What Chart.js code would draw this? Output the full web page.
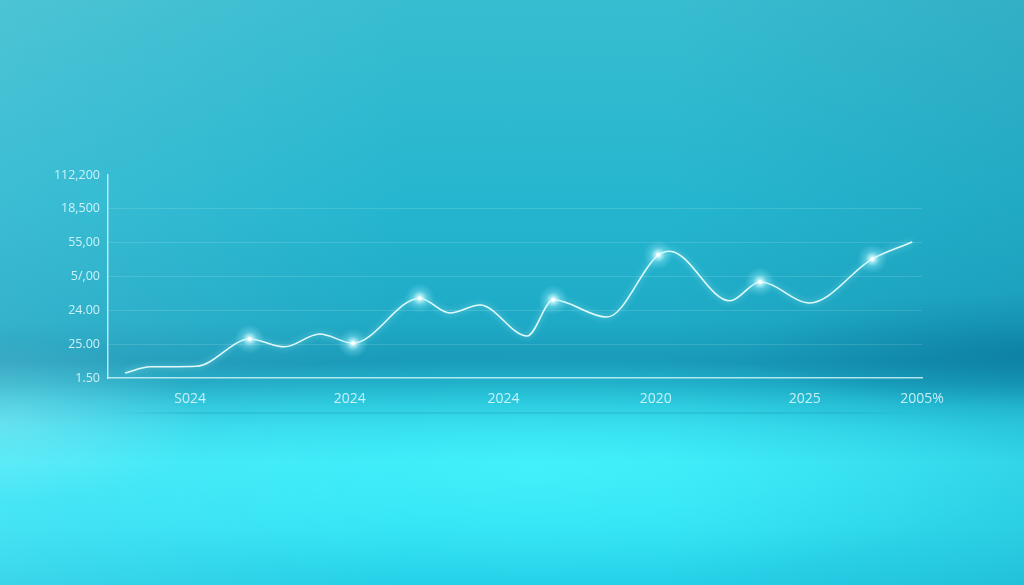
<!DOCTYPE html>
<html><head><meta charset="utf-8">
<script src="https://cdn.jsdelivr.net/npm/chart.js@4"></script>
<style>
html,body{margin:0;padding:0;width:1024px;height:585px;overflow:hidden}
body{background:
 radial-gradient(ellipse 48% 20% at 52% 80%, rgba(80,252,255,0.45), rgba(80,252,255,0) 100%),
 radial-gradient(ellipse 28% 10% at 100% 60%, rgba(0,105,145,0.4), rgba(0,105,145,0) 100%),
 radial-gradient(ellipse 20% 14% at 0% 72%, rgba(190,250,255,0.28), rgba(190,250,255,0) 100%),
 linear-gradient(90deg, rgba(255,255,255,0.1) 0%, rgba(255,255,255,0) 40%, rgba(0,60,100,0) 65%, rgba(0,60,100,0.1) 100%),
 linear-gradient(180deg, #38bdd0 0%, #25b6cf 35%, #1eaac6 55%, #1899b8 62%, #1ba8c3 65.5%, #25c0d8 69%, #2fd6ea 73%, #37e6f6 79%, #30e0f3 90%, #25d0e7 100%);}
#wrap{position:relative;width:1024px;height:585px}
</style></head><body><div id="wrap"><canvas id="c" width="1024" height="585"></canvas></div>
<script>
const yTickLabels = ['1.50','25.00','24.00','5/,00','55,00','18,500','112,200'];
const xTickLabels = ['S024','2024','2024','2020','2025','2005%'];
const xTickPositions = [10.1, 29.7, 48.6, 67.3, 85.6, 100];
const seriesX = [2.1, 5.2, 10.9, 17.4, 21.7, 26.0, 30.1, 38.3, 42.0, 45.7, 51.5, 54.7, 61.3, 67.6, 69.0, 76.4, 80.1, 86.2, 93.9, 98.8];
const seriesY = [0.15, 0.33, 0.35, 1.15, 0.92, 1.30, 1.03, 2.36, 1.92, 2.16, 1.24, 2.31, 1.80, 3.64, 3.75, 2.28, 2.84, 2.22, 3.52, 4.02];
const markerIndices = [3, 6, 7, 11, 13, 16, 18];

const pts = seriesX.map((x, i) => ({x, y: seriesY[i]}));
const markerPts = markerIndices.map(i => pts[i]);

const HALO_R = 15;
function haloFill(ctx) {
  const ch = ctx.chart;
  if (!ch.chartArea || !ctx.parsed) return 'rgba(210,255,255,0.4)';
  const px = ch.scales.x.getPixelForValue(ctx.parsed.x);
  const py = ch.scales.y.getPixelForValue(ctx.parsed.y);
  const g = ch.ctx.createRadialGradient(px, py, 0, px, py, HALO_R);
  g.addColorStop(0, 'rgba(245,255,255,1)');
  g.addColorStop(0.2, 'rgba(215,253,255,0.75)');
  g.addColorStop(0.5, 'rgba(160,242,255,0.3)');
  g.addColorStop(1, 'rgba(150,240,255,0)');
  return g;
}

const glow = {
  id: 'glow',
  beforeDatasetDraw(chart, args) {
    const ds = chart.data.datasets[args.index];
    const c = chart.ctx;
    c.save();
    c.shadowColor = ds.glowColor || 'rgba(200,255,255,0.9)';
    c.shadowBlur = ds.glowBlur || 0;
  },
  afterDatasetDraw(chart) { chart.ctx.restore(); },
  afterDraw(chart) {
    const c = chart.ctx;
    const ca = chart.chartArea;
    c.save();
    const g = c.createLinearGradient(ca.left, 0, ca.right, 0);
    g.addColorStop(0, 'rgba(20,140,170,0)');
    g.addColorStop(0.1, 'rgba(20,140,170,0.2)');
    g.addColorStop(0.9, 'rgba(20,140,170,0.2)');
    g.addColorStop(1, 'rgba(20,140,170,0)');
    c.strokeStyle = g;
    c.lineWidth = 2;
    c.beginPath();
    c.moveTo(ca.left + 5, ca.bottom + 35);
    c.lineTo(ca.right, ca.bottom + 35);
    c.stroke();
    c.restore();
  }
};

new Chart(document.getElementById('c'), {
  type: 'line',
  data: {
    datasets: [
      {
        data: markerPts, showLine: false, order: 0, clip: false,
        pointRadius: 2, pointBackgroundColor: 'rgba(255,255,255,0.9)', pointBorderWidth: 0,
        glowColor: 'rgba(220,255,255,1)', glowBlur: 10
      },
      {
        data: markerPts, showLine: false, order: 1, clip: false,
        pointRadius: HALO_R, pointBackgroundColor: haloFill, pointBorderWidth: 0
      },
      {
        data: pts, order: 2, clip: false,
        borderColor: 'rgba(235,255,255,0.95)', borderWidth: 1.5,
        cubicInterpolationMode: 'monotone', pointRadius: 0,
        glowColor: 'rgba(200,255,255,0.7)', glowBlur: 6
      }
    ]
  },
  options: {
    responsive: false, animation: false, devicePixelRatio: 1,
    layout: {padding: {top: 175, right: 102, left: 0, bottom: 0}},
    plugins: {legend: {display: false}, tooltip: {enabled: false}},
    scales: {
      x: {
        type: 'linear', min: 0, max: 100,
        afterBuildTicks(s) { s.ticks = xTickPositions.map(v => ({value: v})); },
        afterFit(s) { s.height = 585 - 378; },
        grid: {display: false, drawTicks: false},
        border: {display: true, color: 'rgba(215,248,255,0.8)', width: 1.5},
        ticks: {
          autoSkip: false, maxRotation: 0, padding: 13,
          color: 'rgba(225,250,255,0.85)',
          font: {family: 'Open Sans', size: 14},
          callback: (v, i) => xTickLabels[i]
        }
      },
      y: {
        min: 0, max: 6,
        afterFit(s) { s.width = 108; },
        grid: {drawTicks: false, color: c => (c.tick && (c.tick.value === 0 || c.tick.value === 6)) ? 'rgba(0,0,0,0)' : 'rgba(255,255,255,0.13)'},
        border: {display: true, color: 'rgba(215,248,255,0.8)', width: 1.5},
        ticks: {
          stepSize: 1, padding: 8,
          color: 'rgba(225,250,255,0.88)',
          font: {family: 'Open Sans', size: 12.5},
          callback: v => yTickLabels[v]
        }
      }
    }
  },
  plugins: [glow]
});
</script></body></html>
